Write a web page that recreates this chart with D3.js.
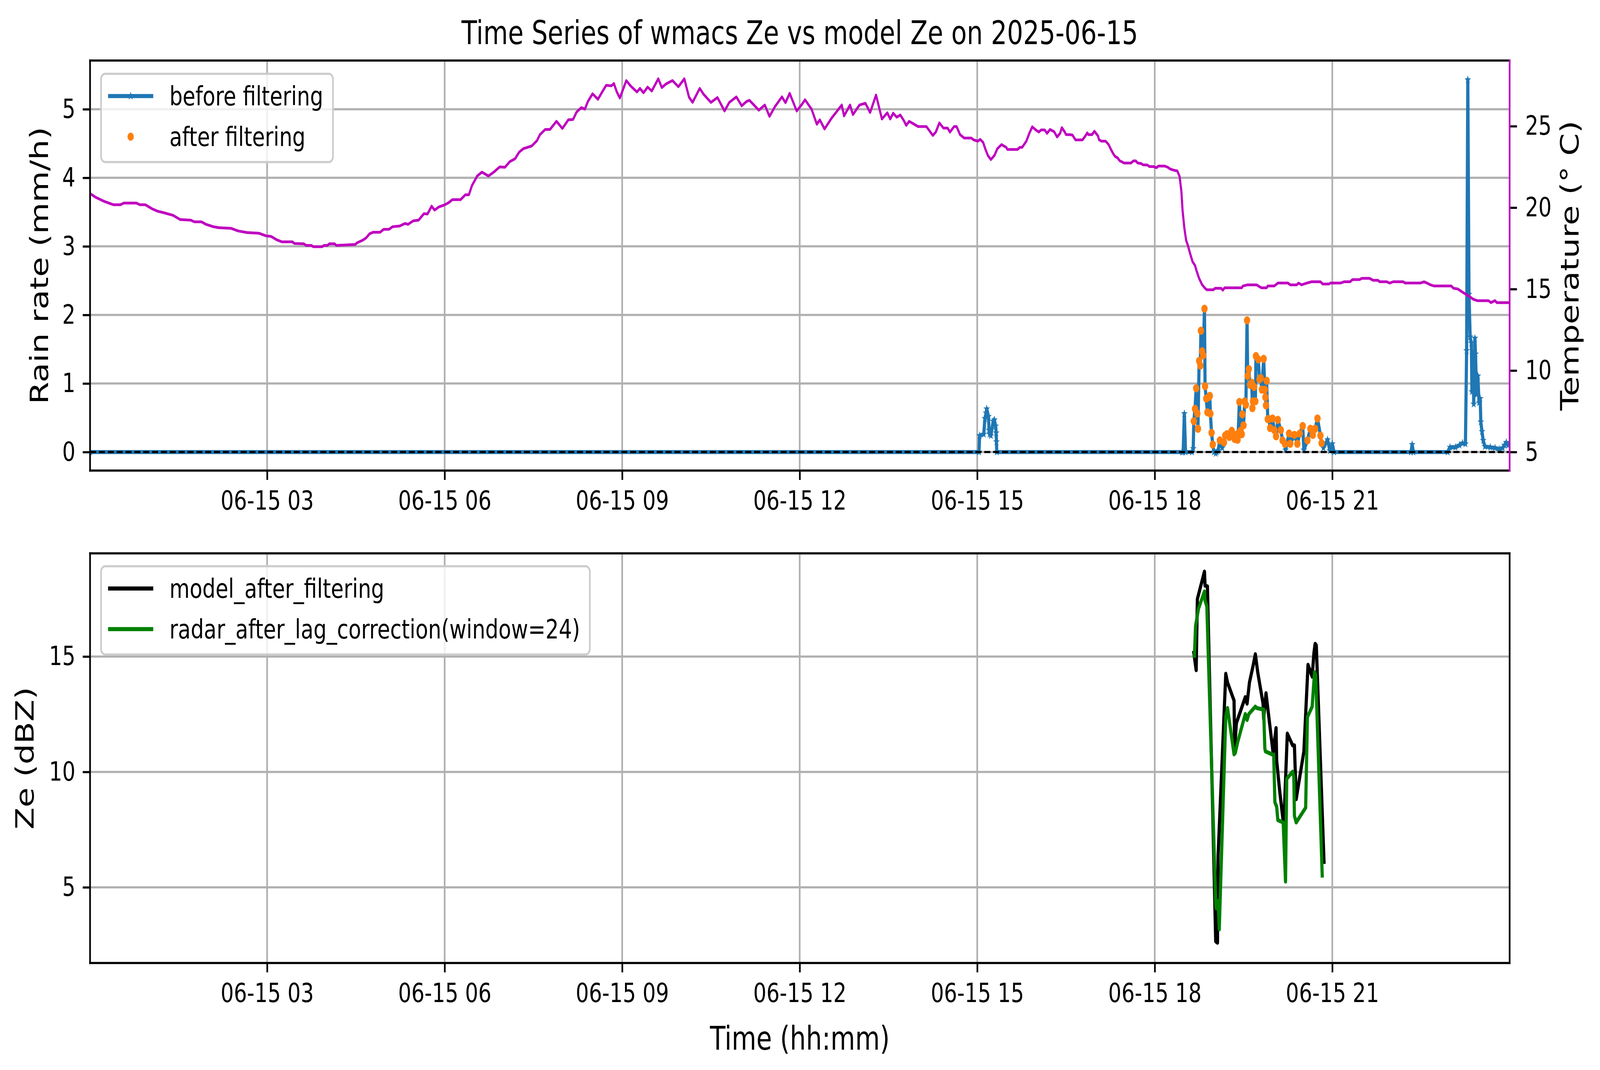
<!DOCTYPE html>
<html>
<head>
<meta charset="utf-8">
<script src="https://cdn.jsdelivr.net/npm/d3@7"></script>
<style>
  html, body { margin: 0; padding: 0; background: #fff; overflow: hidden; }
  #chart { display: block; width: 100vw; height: 100vh; }
</style>
</head>
<body>
<svg id="chart"></svg>
<script>
const W = 5241, H = 2740;

// ---- data (hours after 2025-06-15 00:00 UTC) ----
const xTickHours = [3, 6, 9, 12, 15, 18, 21];
const rainTicks = [0, 1, 2, 3, 4, 5];
const tempTicks = [5, 10, 15, 20, 25];
const zeTicks = [5, 10, 15];

// [hour, temperature °C]
const temperature = [
  [0.00,20.88],[0.11,20.62],[0.25,20.38],[0.40,20.18],[0.52,20.18],[0.58,20.28],[0.79,20.28],[0.85,20.18],
  [0.94,20.18],[1.06,19.92],[1.15,19.78],[1.26,19.68],[1.41,19.53],[1.53,19.27],[1.71,19.23],[1.77,19.13],
  [1.89,19.13],[1.97,18.97],[2.09,18.83],[2.18,18.77],[2.39,18.73],[2.51,18.57],[2.66,18.47],[2.86,18.43],
  [2.98,18.27],[3.07,18.23],[3.16,18.03],[3.25,17.90],[3.43,17.90],[3.46,17.80],[3.62,17.78],[3.66,17.68],
  [3.75,17.68],[3.78,17.60],[3.93,17.60],[3.96,17.68],[4.02,17.68],[4.05,17.78],[4.14,17.78],[4.17,17.68],
  [4.49,17.74],[4.52,17.84],[4.61,17.99],[4.67,18.13],[4.73,18.39],[4.79,18.49],[4.91,18.49],[4.97,18.67],
  [5.06,18.67],[5.12,18.83],[5.24,18.87],[5.33,19.03],[5.38,18.97],[5.47,19.19],[5.56,19.23],[5.65,19.63],
  [5.71,19.61],[5.78,20.09],[5.83,19.85],[5.90,20.04],[6.00,20.17],[6.07,20.31],[6.13,20.49],[6.27,20.49],
  [6.35,20.79],[6.41,20.79],[6.46,21.34],[6.55,21.94],[6.63,22.18],[6.74,21.94],[6.83,22.18],[6.93,22.50],
  [7.02,22.48],[7.10,22.82],[7.19,23.00],[7.26,23.41],[7.33,23.62],[7.47,23.78],[7.56,24.11],[7.61,24.48],
  [7.70,24.80],[7.78,24.80],[7.89,25.30],[7.99,24.86],[8.09,25.39],[8.17,25.41],[8.23,25.87],[8.31,26.14],
  [8.37,26.05],[8.42,26.51],[8.50,26.99],[8.59,26.65],[8.68,27.21],[8.73,27.51],[8.82,27.48],[8.86,27.62],
  [8.91,27.10],[8.96,26.73],[9.01,27.21],[9.07,27.80],[9.14,27.48],[9.25,27.10],[9.30,27.32],[9.36,27.05],
  [9.43,27.40],[9.50,27.16],[9.61,27.91],[9.67,27.37],[9.74,27.59],[9.85,27.80],[9.95,27.42],[10.05,27.91],
  [10.13,26.78],[10.19,26.46],[10.31,27.32],[10.38,26.94],[10.50,26.46],[10.61,26.76],[10.73,25.93],[10.81,26.46],
  [10.93,26.80],[11.02,26.25],[11.10,26.51],[11.15,26.59],[11.31,25.98],[11.41,26.30],[11.49,25.60],[11.58,26.19],
  [11.70,26.80],[11.76,26.44],[11.83,27.02],[11.95,25.93],[12.04,26.35],[12.09,26.62],[12.20,26.05],[12.29,25.12],
  [12.34,25.39],[12.42,24.83],[12.54,25.50],[12.62,25.87],[12.71,26.30],[12.75,25.63],[12.85,26.30],[12.90,25.71],
  [13.01,26.30],[13.11,26.41],[13.19,25.84],[13.29,26.91],[13.39,25.44],[13.48,25.82],[13.53,25.44],[13.58,25.80],
  [13.64,25.55],[13.70,25.69],[13.76,25.34],[13.80,25.05],[13.85,25.30],[14.00,24.98],[14.14,24.98],[14.25,24.43],
  [14.30,24.64],[14.36,25.20],[14.43,24.88],[14.50,24.88],[14.54,24.64],[14.61,24.98],[14.65,24.98],[14.71,24.48],
  [14.78,24.27],[14.90,24.27],[14.94,24.16],[15.01,24.08],[15.05,24.19],[15.10,24.00],[15.14,23.57],[15.18,23.20],
  [15.23,22.95],[15.29,23.20],[15.34,23.62],[15.41,23.87],[15.49,23.70],[15.51,23.57],[15.68,23.57],[15.72,23.70],
  [15.76,23.70],[15.83,24.08],[15.88,24.56],[15.93,24.96],[15.99,24.77],[16.04,24.64],[16.08,24.77],[16.14,24.77],
  [16.18,24.56],[16.23,24.80],[16.30,24.66],[16.35,24.34],[16.40,24.56],[16.43,24.91],[16.48,24.64],[16.50,24.48],
  [16.57,24.48],[16.61,24.45],[16.66,24.16],[16.78,24.16],[16.83,24.41],[16.86,24.59],[16.88,24.48],[16.94,24.48],
  [16.98,24.69],[17.04,24.41],[17.06,24.16],[17.10,24.08],[17.17,24.08],[17.22,23.87],[17.26,23.57],[17.30,23.30],
  [17.33,23.14],[17.37,23.06],[17.41,22.87],[17.44,22.82],[17.48,22.74],[17.60,22.74],[17.64,22.87],[17.68,22.87],
  [17.71,22.74],[17.77,22.71],[17.80,22.63],[17.88,22.61],[17.91,22.52],[17.98,22.52],[18.03,22.45],[18.06,22.55],
  [18.17,22.55],[18.22,22.48],[18.26,22.37],[18.33,22.29],[18.38,22.26],[18.42,21.91],[18.45,21.00],[18.47,19.82],
  [18.50,18.75],[18.53,18.00],[18.56,17.68],[18.60,17.15],[18.64,16.67],[18.68,16.45],[18.71,16.08],[18.75,15.65],
  [18.80,15.27],[18.85,15.05],[18.88,14.96],[18.99,14.96],[19.02,15.05],[19.12,15.05],[19.15,14.93],[19.18,15.08],
  [19.47,15.08],[19.49,15.19],[19.57,15.26],[19.72,15.26],[19.80,15.08],[19.89,15.08],[19.91,15.19],[20.02,15.19],
  [20.08,15.37],[20.25,15.37],[20.29,15.26],[20.40,15.26],[20.43,15.37],[20.48,15.26],[20.57,15.37],[20.65,15.45],
  [20.80,15.45],[20.84,15.31],[20.94,15.31],[20.97,15.37],[21.14,15.37],[21.20,15.45],[21.30,15.45],[21.34,15.58],
  [21.46,15.58],[21.50,15.66],[21.63,15.66],[21.69,15.54],[21.77,15.54],[21.80,15.45],[21.92,15.45],[21.97,15.37],
  [22.03,15.45],[22.20,15.45],[22.23,15.37],[22.49,15.37],[22.55,15.45],[22.60,15.37],[22.66,15.26],[22.72,15.19],
  [23.01,15.19],[23.05,15.05],[23.12,15.01],[23.21,14.79],[23.31,14.57],[23.38,14.38],[23.45,14.29],[23.64,14.29],
  [23.68,14.17],[23.75,14.29],[23.78,14.17],[24.00,14.17]
];

// [hour, rain rate mm/h, kept after filtering (1) or not (0)]
const rainRate = [
  [0.01,0,0],[15.03,0,0],[15.04,0.24,0],[15.11,0.26,0],[15.13,0.49,0],[15.15,0.57,0],[15.16,0.63,0],
  [15.19,0.52,0],[15.20,0.32,0],[15.21,0.26,0],[15.23,0.24,0],[15.27,0.45,0],[15.29,0.47,0],[15.31,0.38,0],
  [15.32,0.28,0],[15.325,0.15,0],[15.33,0,0],
  [18.46,0,0],[18.48,0,0],[18.50,0.56,0],[18.52,0,0],[18.63,0,0],[18.65,0.05,0],
  [18.66,0.45,1],[18.68,0.63,1],[18.70,0.93,1],[18.72,0.56,1],[18.73,0.34,1],[18.75,1.33,1],[18.77,1.26,1],
  [18.78,1.77,1],[18.80,1.47,1],[18.82,1.41,1],[18.84,2.09,1],[18.85,0.96,1],[18.87,0.78,1],[18.89,0.58,1],
  [18.91,0.80,1],[18.93,0.82,1],[18.94,0.56,1],[18.96,0.28,1],[18.98,0.11,1],
  [19.00,0,0],[19.03,-0.02,0],[19.05,0,0],[19.07,0.02,0],
  [19.10,0.17,1],[19.14,0.06,0],[19.17,0.14,1],[19.19,0.24,1],[19.22,0.26,1],[19.26,0.22,1],[19.30,0.31,1],
  [19.33,0.26,1],[19.35,0.19,1],[19.40,0.18,1],[19.41,0.27,1],[19.43,0.73,1],[19.45,0.31,1],[19.47,0.26,1],
  [19.48,0.55,1],[19.50,0.39,1],[19.52,0.74,1],[19.54,0.69,1],[19.56,1.92,1],[19.57,1.11,1],[19.59,1.21,1],
  [19.61,0.98,1],[19.64,1.01,1],[19.65,0.64,1],[19.66,0.74,1],[19.68,0.95,1],[19.70,0.74,1],[19.71,1.40,1],
  [19.75,1.35,1],[19.77,1.06,1],[19.79,1.08,1],[19.81,0.91,1],[19.84,1.36,1],[19.86,0.91,1],[19.87,0.80,1],
  [19.88,0.68,1],[19.89,1.04,1],[19.91,0.48,1],[19.93,0.48,1],[19.95,0.35,1],[19.99,0.49,1],[20.02,0.32,1],
  [20.05,0.23,1],[20.08,0.47,1],[20.13,0.32,1],[20.16,0.17,1],[20.20,0.12,1],[20.21,0.03,0],[20.27,0.27,1],
  [20.29,0.12,1],[20.36,0.25,1],[20.41,0.12,1],[20.45,0.27,1],[20.50,0.38,1],[20.52,0.03,0],[20.58,0.17,1],
  [20.63,0.34,1],[20.67,0.25,1],[20.71,0.34,1],[20.75,0.49,1],[20.80,0.24,1],[20.82,0.13,1],[20.85,0.06,0],
  [20.92,0.18,0],[20.96,0.02,0],[21.00,0.12,0],[21.03,0,0],
  [22.33,0,0],[22.35,0.11,0],[22.37,0,0],[22.95,0,0],[22.99,0.07,0],[23.08,0.07,0],[23.15,0.10,0],
  [23.20,0.13,0],[23.25,0.12,0],[23.27,1.48,0],[23.29,5.43,0],[23.31,2.30,0],[23.33,1.68,0],[23.35,1.59,0],
  [23.36,0.88,0],[23.38,1.42,0],[23.39,0.70,0],[23.41,1.66,0],[23.42,1.43,0],[23.44,0.84,0],[23.46,1.11,0],
  [23.48,0.72,0],[23.50,0.78,0],[23.51,0.44,0],[23.53,0.30,0],[23.55,0.17,0],[23.58,0.08,0],[23.67,0.07,0],
  [23.75,0.06,0],[23.82,0.04,0],[23.88,0.06,0],[23.91,0.10,0],[23.94,0.14,0],[23.97,0.10,0],[23.99,0.12,0]
];

// [hour, Ze dBZ]
const modelZe = [
  [18.66,15.16],[18.70,14.41],[18.72,17.49],[18.84,18.68],[18.85,18.07],[18.89,18.04],[19.03,2.66],[19.06,2.60],
  [19.07,6.36],[19.20,14.25],[19.23,13.87],[19.34,13.09],[19.35,11.02],[19.38,12.12],[19.53,13.24],[19.56,12.96],
  [19.60,13.87],[19.66,14.58],[19.70,15.10],[19.74,14.32],[19.83,12.96],[19.84,12.31],[19.88,13.41],[20.00,10.82],
  [20.05,11.90],[20.06,10.50],[20.11,9.20],[20.18,7.65],[20.24,11.66],[20.33,11.15],[20.36,11.15],[20.39,8.82],
  [20.52,10.89],[20.59,14.64],[20.66,14.13],[20.69,15.16],[20.71,15.55],[20.73,15.48],[20.86,6.10]
];
const radarZe = [
  [18.67,15.03],[18.69,16.33],[18.74,17.08],[18.84,17.82],[18.85,17.43],[18.88,17.17],[19.03,4.35],[19.04,4.09],
  [19.07,4.41],[19.09,3.18],[19.20,12.38],[19.23,12.77],[19.34,10.76],[19.36,10.82],[19.40,11.28],[19.53,12.51],
  [19.56,12.25],[19.59,12.51],[19.70,12.83],[19.72,12.77],[19.84,12.70],[19.86,11.02],[19.87,10.89],[20.01,10.73],
  [20.03,8.69],[20.06,8.49],[20.08,7.91],[20.17,7.81],[20.21,5.25],[20.23,9.70],[20.33,10.01],[20.35,9.79],
  [20.36,8.10],[20.39,7.81],[20.55,8.45],[20.58,12.38],[20.66,12.83],[20.70,14.32],[20.72,14.19],[20.83,5.51]
];

// ---- layout ----
const FONT = "DejaVu Sans, sans-serif";
const tickFont = 68, labelFont = 83;
const L = 295, R = 4945;
const panelA = { y0: 155, y1: 1205 };
const panelB = { y0: 1417, y1: 2466 };
const lw = 10.4, thin = 5.5;

const day0 = Date.UTC(2025, 5, 15);
const toDate = h => new Date(day0 + h * 3600e3);

// drawing done in the reference's 5241x2740 frame, stretched to fill the window
const svg = d3.select('#chart')
  .attr('viewBox', `0 0 ${W} ${H}`)
  .attr('preserveAspectRatio', 'none');
svg.append('rect').attr('width', W).attr('height', H).attr('fill', '#fff');

const x = d3.scaleUtc()
  .domain([toDate(0.008), toDate(23.997)])
  .range([L, R]);
const yRain = d3.scaleLinear().domain([-0.27, 5.71]).range([panelA.y1, panelA.y0]);
const yTemp = d3.scaleLinear().domain([3.86, 29.03]).range([panelA.y1, panelA.y0]);
const yZe = d3.scaleLinear().domain([1.72, 19.47]).range([panelB.y1, panelB.y0]);

const defs = svg.append('defs');
[['clipA', panelA], ['clipB', panelB]].forEach(([id, p]) => {
  defs.append('clipPath').attr('id', id)
    .append('rect').attr('x', L).attr('y', p.y0).attr('width', R - L).attr('height', p.y1 - p.y0);
});

function styleAxis(g) {
  g.select('.domain').remove();
  g.attr('font-family', FONT).attr('font-size', tickFont);
  g.selectAll('.tick line').attr('stroke', '#000').attr('stroke-width', thin);
  g.selectAll('.tick text').attr('fill', '#000');
}

function grid(p, yScale, yTicks) {
  const g = svg.append('g').attr('stroke', '#b0b0b0').attr('stroke-width', thin);
  g.selectAll('line.gx').data(xTickHours).enter().append('line')
    .attr('x1', d => x(toDate(d))).attr('x2', d => x(toDate(d)))
    .attr('y1', p.y0).attr('y2', p.y1);
  g.selectAll('line.gy').data(yTicks).enter().append('line')
    .attr('x1', L).attr('x2', R)
    .attr('y1', d => yScale(d)).attr('y2', d => yScale(d));
}

function xAxis(p) {
  svg.append('g').attr('transform', `translate(0,${p.y1})`)
    .call(d3.axisBottom(x)
      .tickValues(xTickHours.map(toDate))
      .tickFormat(d3.utcFormat('%m-%d %H'))
      .tickSize(24).tickPadding(28))
    .call(styleAxis);
}

function spines(p, rightColor) {
  const g = svg.append('g').attr('stroke-width', thin).attr('stroke-linecap', 'square');
  g.append('line').attr('x1', L).attr('x2', R).attr('y1', p.y0).attr('y2', p.y0).attr('stroke', '#000');
  g.append('line').attr('x1', L).attr('x2', R).attr('y1', p.y1).attr('y2', p.y1).attr('stroke', '#000');
  g.append('line').attr('x1', L).attr('x2', L).attr('y1', p.y0).attr('y2', p.y1).attr('stroke', '#000');
  g.append('line').attr('x1', R).attr('x2', R).attr('y1', p.y0).attr('y2', p.y1).attr('stroke', rightColor);
}

function legend(y0, rows) {
  const g = svg.append('g');
  const box = g.append('rect');
  let maxEnd = 0;
  rows.forEach((r, i) => {
    const cy = y0 + 57 + i * 104;
    r.handle(g, 428, cy);
    const t = g.append('text').attr('x', 555).attr('y', cy + 24)
      .attr('font-family', FONT).attr('font-size', tickFont).text(r.label);
    maxEnd = Math.max(maxEnd, 555 + t.node().getComputedTextLength());
  });
  box.attr('x', 331).attr('y', y0).attr('width', maxEnd + 32 - 331).attr('height', 226)
    .attr('rx', 14).attr('fill', '#fff').attr('fill-opacity', 0.8)
    .attr('stroke', '#cccccc').attr('stroke-width', thin);
}

const star = d3.symbol(d3.symbolStar, 75);
const line = (ys) => d3.line().x(d => x(toDate(d[0]))).y(d => ys(d[1]));

// ---- panel A: rain rate + temperature ----
grid(panelA, yRain, rainTicks);

const gA = svg.append('g').attr('clip-path', 'url(#clipA)');
gA.append('path').datum(rainRate)
  .attr('d', line(yRain))
  .attr('fill', 'none').attr('stroke', '#1f77b4').attr('stroke-width', lw)
  .attr('stroke-linejoin', 'round');
gA.selectAll('path.star').data(rainRate).enter().append('path')
  .attr('class', 'star')
  .attr('transform', d => `translate(${x(toDate(d[0]))},${yRain(d[1])})`)
  .attr('d', star).attr('fill', '#1f77b4').attr('stroke', '#1f77b4').attr('stroke-width', 2);
gA.selectAll('circle.kept').data(rainRate.filter(d => d[2] === 1)).enter().append('circle')
  .attr('class', 'kept')
  .attr('cx', d => x(toDate(d[0]))).attr('cy', d => yRain(d[1]))
  .attr('r', 10.4).attr('fill', '#ff7f0e');
gA.append('line')
  .attr('x1', L).attr('x2', R).attr('y1', yRain(0)).attr('y2', yRain(0))
  .attr('stroke', '#000').attr('stroke-width', thin).attr('stroke-dasharray', '20,9');

legend(189, [
  { label: 'before filtering', handle: (g, cx, cy) => {
      g.append('line').attr('x1', 354).attr('x2', 502).attr('y1', cy).attr('y2', cy)
        .attr('stroke', '#1f77b4').attr('stroke-width', lw);
      g.append('path').attr('transform', `translate(${cx},${cy})`).attr('d', star)
        .attr('fill', '#1f77b4').attr('stroke', '#1f77b4').attr('stroke-width', 2);
    } },
  { label: 'after filtering', handle: (g, cx, cy) => {
      g.append('circle').attr('cx', cx).attr('cy', cy).attr('r', 10.4).attr('fill', '#ff7f0e');
    } }
]);

svg.append('g').attr('clip-path', 'url(#clipA)')
  .append('path').datum(temperature)
  .attr('d', line(yTemp))
  .attr('fill', 'none').attr('stroke', '#bf00bf').attr('stroke-width', 7)
  .attr('stroke-linejoin', 'round');

svg.append('g').attr('transform', `translate(${L},0)`)
  .call(d3.axisLeft(yRain).tickValues(rainTicks).tickFormat(d3.format('d')).tickSize(24).tickPadding(24))
  .call(styleAxis);
svg.append('g').attr('transform', `translate(${R},0)`)
  .call(d3.axisRight(yTemp).tickValues(tempTicks).tickFormat(d3.format('d')).tickSize(24).tickPadding(27))
  .call(styleAxis);
xAxis(panelA);
spines(panelA, '#bf00bf');

// ---- panel B: Ze ----
grid(panelB, yZe, zeTicks);
const gB = svg.append('g').attr('clip-path', 'url(#clipB)');
[[modelZe, '#000'], [radarZe, '#008000']].forEach(([data, color]) => {
  gB.append('path').datum(data)
    .attr('d', line(yZe))
    .attr('fill', 'none').attr('stroke', color).attr('stroke-width', lw)
    .attr('stroke-linejoin', 'round').attr('stroke-linecap', 'square');
});

legend(1450, [
  { label: 'model_after_filtering', handle: (g, cx, cy) => {
      g.append('line').attr('x1', 354).attr('x2', 502).attr('y1', cy).attr('y2', cy)
        .attr('stroke', '#000').attr('stroke-width', lw);
    } },
  { label: 'radar_after_lag_correction(window=24)', handle: (g, cx, cy) => {
      g.append('line').attr('x1', 354).attr('x2', 502).attr('y1', cy).attr('y2', cy)
        .attr('stroke', '#008000').attr('stroke-width', lw);
    } }
]);

svg.append('g').attr('transform', `translate(${L},0)`)
  .call(d3.axisLeft(yZe).tickValues(zeTicks).tickFormat(d3.format('d')).tickSize(24).tickPadding(24))
  .call(styleAxis);
xAxis(panelB);
spines(panelB, '#000');

// ---- titles and labels ----
const label = (txt, tx, ty, rot) => svg.append('text')
  .attr('transform', `translate(${tx},${ty})` + (rot ? ` rotate(${rot})` : ''))
  .attr('text-anchor', 'middle').attr('font-family', FONT).attr('font-size', labelFont)
  .attr('fill', '#000').text(txt);

label('Time Series of wmacs Ze vs model Ze on 2025-06-15', (L + R) / 2, 113);
label('Rain rate (mm/h)', 158, (panelA.y0 + panelA.y1) / 2, -90);
label('Temperature (° C)', 5171, (panelA.y0 + panelA.y1) / 2, -90);
label('Ze (dBZ)', 110, (panelB.y0 + panelB.y1) / 2, -90);
label('Time (hh:mm)', (L + R) / 2, 2688);
</script>
</body>
</html>
